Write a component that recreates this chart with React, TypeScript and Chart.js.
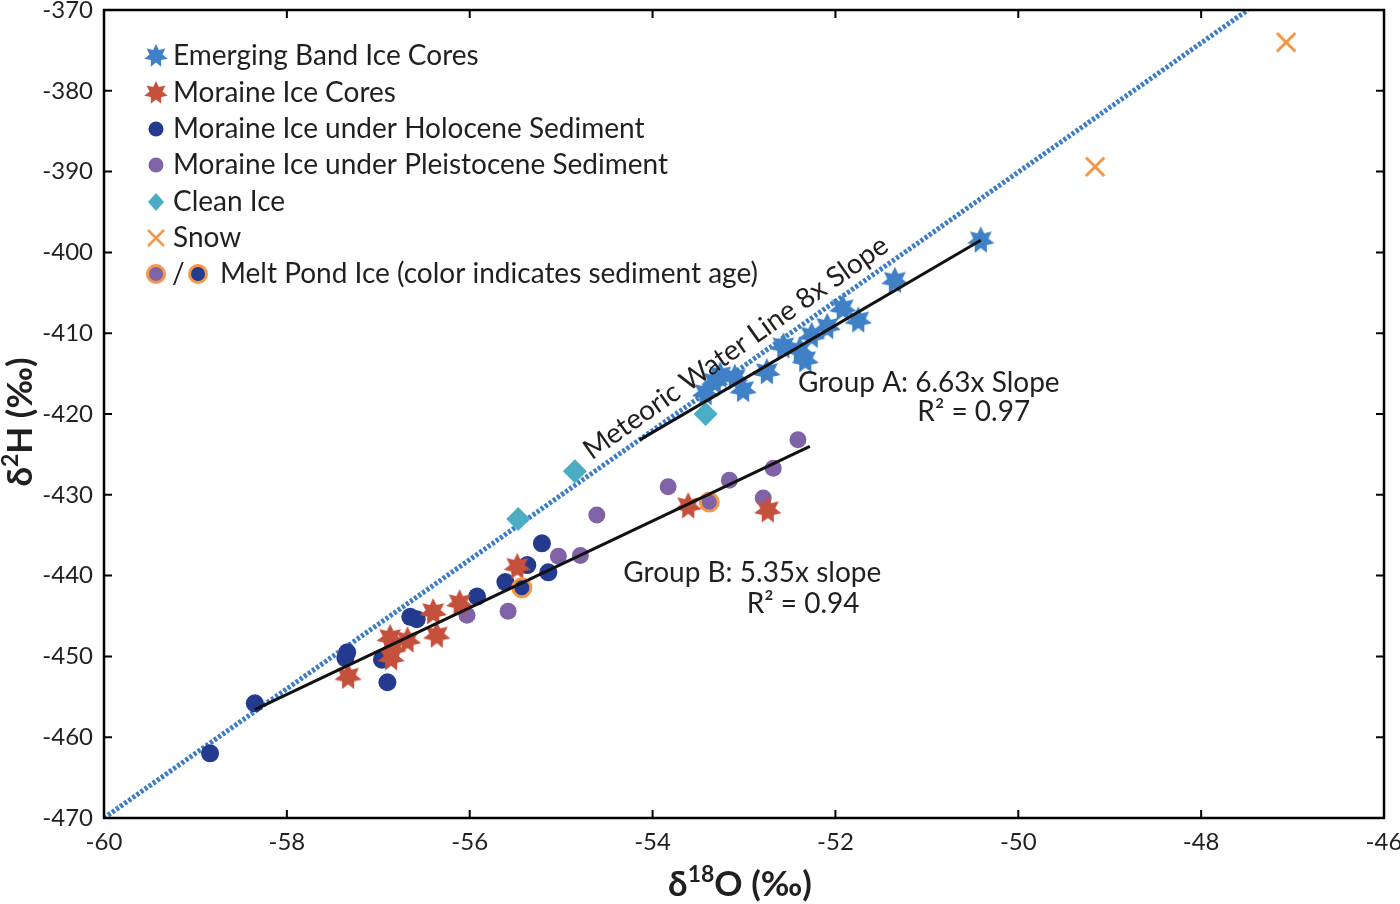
import { useEffect, useRef } from "react"
import { Chart, registerables } from "chart.js"

Chart.register(...registerables)

const FONT = "Lato, 'Open Sans', sans-serif"
const TEXT = "#231f20"

// δ18O (x) and δ2H (y), ‰
const emergingX = [-50.41, -51.35, -51.92, -51.75, -52.09, -52.26, -52.57, -52.39, -52.33, -52.75, -53.01, -53.1, -53.32, -53.42, -53.26]
const emergingY = [-398.5, -403.5, -406.9, -408.4, -409.2, -410.3, -411.6, -412.1, -413.3, -414.8, -417.0, -415.5, -416.0, -417.4, -415.2]

const moraineX = [-57.33, -56.87, -56.86, -56.84, -56.68, -56.4, -56.36, -56.11, -55.48, -53.61, -52.74]
const moraineY = [-452.5, -447.7, -450.2, -449.0, -448.0, -444.5, -447.4, -443.4, -438.9, -431.4, -431.9]

const holoceneX = [-58.84, -58.35, -57.36, -57.34, -56.96, -56.9, -56.65, -56.58, -55.92, -55.61, -55.37, -55.21, -55.14]
const holoceneY = [-462.0, -455.8, -450.2, -449.5, -450.4, -453.2, -445.1, -445.4, -442.6, -440.8, -438.7, -436.0, -439.6]

const pleistoceneX = [-56.03, -55.58, -55.03, -54.79, -54.61, -53.83, -53.16, -52.68, -52.41, -52.79]
const pleistoceneY = [-444.9, -444.4, -437.6, -437.5, -432.5, -429.0, -428.2, -426.7, -423.2, -430.4]

const cleanX = [-53.42, -54.85, -55.47]
const cleanY = [-420.0, -427.1, -433.0]

const snowX = [-47.07, -49.16]
const snowY = [-374.0, -389.4]

const meltPurpleX = [-53.38]
const meltPurpleY = [-430.9]
const meltBlueX = [-55.43]
const meltBlueY = [-441.5]

const mwlX = [-60, -47.49]
const mwlY = [-470, -370]
const groupAX = [-54.14, -50.41]
const groupAY = [-423.2, -398.5]
const groupBX = [-58.35, -52.28]
const groupBY = [-456.6, -424.0]

const xTicks = [-60, -58, -56, -54, -52, -50, -48, -46]
const yTicks = [-470, -460, -450, -440, -430, -420, -410, -400, -390, -380, -370]

const BLUE_STAR = "#3f80c6"
const RED_STAR = "#c5513c"
const HOLO = "#233a8f"
const PLEI = "#8063a6"
const CLEAN = "#4badc4"
const SNOW = "#f79646"
const MWL = "#3a7cc8"

const pts = (xs: number[], ys: number[]) => xs.map((x, i) => ({ x, y: ys[i] }))

function starPath(ctx: CanvasRenderingContext2D, cx: number, cy: number, r: number) {
  const n = 7
  ctx.beginPath()
  for (let i = 0; i < n * 2; i++) {
    const rad = i % 2 === 0 ? r : r * 0.55
    const a = -Math.PI / 2 + (i * Math.PI) / n
    const px = cx + Math.cos(a) * rad
    const py = cy + Math.sin(a) * rad
    if (i === 0) ctx.moveTo(px, py)
    else ctx.lineTo(px, py)
  }
  ctx.closePath()
}

function makeStar(color: string, r: number) {
  const c = document.createElement("canvas")
  const size = Math.ceil(r * 2 + 2)
  c.width = size
  c.height = size
  const ctx = c.getContext("2d")!
  ctx.fillStyle = color
  starPath(ctx, size / 2, size / 2, r)
  ctx.fill()
  return c
}

const frameAndText = {
  id: "frameAndText",
  afterDraw(chart: Chart) {
    const { ctx, chartArea: a, scales } = chart
    const xs = scales.x
    const ys = scales.y
    ctx.save()

    // frame with inward ticks on all four sides
    ctx.strokeStyle = "#000"
    ctx.lineWidth = 2.5
    ctx.strokeRect(a.left, a.top, a.right - a.left, a.bottom - a.top)
    ctx.lineWidth = 2
    ctx.beginPath()
    xTicks.forEach((v) => {
      const px = xs.getPixelForValue(v)
      ctx.moveTo(px, a.bottom)
      ctx.lineTo(px, a.bottom - 8)
      ctx.moveTo(px, a.top)
      ctx.lineTo(px, a.top + 8)
    })
    yTicks.forEach((v) => {
      const py = ys.getPixelForValue(v)
      ctx.moveTo(a.left, py)
      ctx.lineTo(a.left + 8, py)
      ctx.moveTo(a.right, py)
      ctx.lineTo(a.right - 8, py)
    })
    ctx.stroke()

    // legend
    ctx.fillStyle = TEXT
    ctx.font = `28px ${FONT}`
    ctx.textBaseline = "middle"
    ctx.textAlign = "left"
    const lx = 156
    const tx = 173
    const rows = [56, 93, 129, 165, 202, 238, 274]
    const labels = [
      "Emerging Band Ice Cores",
      "Moraine Ice Cores",
      "Moraine Ice under Holocene Sediment",
      "Moraine Ice under Pleistocene Sediment",
      "Clean Ice",
      "Snow",
    ]
    labels.forEach((t, i) => {
      ctx.fillStyle = TEXT
      ctx.fillText(t, tx, rows[i])
    })
    ctx.fillStyle = BLUE_STAR
    starPath(ctx, lx, rows[0], 12)
    ctx.fill()
    ctx.fillStyle = RED_STAR
    starPath(ctx, lx, rows[1], 12)
    ctx.fill()
    ctx.fillStyle = HOLO
    ctx.beginPath()
    ctx.arc(lx, rows[2], 7.5, 0, Math.PI * 2)
    ctx.fill()
    ctx.fillStyle = PLEI
    ctx.beginPath()
    ctx.arc(lx, rows[3], 7.5, 0, Math.PI * 2)
    ctx.fill()
    ctx.fillStyle = CLEAN
    ctx.beginPath()
    ctx.moveTo(lx, rows[4] - 9)
    ctx.lineTo(lx + 8, rows[4])
    ctx.lineTo(lx, rows[4] + 9)
    ctx.lineTo(lx - 8, rows[4])
    ctx.closePath()
    ctx.fill()
    ctx.strokeStyle = SNOW
    ctx.lineWidth = 2.5
    ctx.beginPath()
    ctx.moveTo(lx - 8, rows[5] - 8)
    ctx.lineTo(lx + 8, rows[5] + 8)
    ctx.moveTo(lx + 8, rows[5] - 8)
    ctx.lineTo(lx - 8, rows[5] + 8)
    ctx.stroke()
    const ring = (cx: number, fill: string) => {
      ctx.fillStyle = fill
      ctx.beginPath()
      ctx.arc(cx, rows[6], 8.5, 0, Math.PI * 2)
      ctx.fill()
      ctx.strokeStyle = SNOW
      ctx.lineWidth = 3
      ctx.stroke()
    }
    ring(lx, PLEI)
    ring(198, HOLO)
    ctx.fillStyle = TEXT
    ctx.fillText("/", 172, rows[6])
    ctx.fillText("Melt Pond Ice (color indicates sediment age)", 220, rows[6])

    // annotations
    ctx.textBaseline = "middle"
    ctx.textAlign = "left"
    ctx.fillText("Group A: 6.63x Slope", xs.getPixelForValue(-52.41), ys.getPixelForValue(-416.2))
    ctx.textAlign = "right"
    ctx.fillText("R² = 0.97", xs.getPixelForValue(-49.87), ys.getPixelForValue(-419.8))
    ctx.textAlign = "left"
    ctx.fillText("Group B: 5.35x slope", xs.getPixelForValue(-54.32), ys.getPixelForValue(-439.7))
    ctx.fillText("R² = 0.94", xs.getPixelForValue(-52.97), ys.getPixelForValue(-443.5))

    const mx = xs.getPixelForValue(-53.09)
    const my = ys.getPixelForValue(-411.8)
    const ang = Math.atan2(
      ys.getPixelForValue(mwlY[1]) - ys.getPixelForValue(mwlY[0]),
      xs.getPixelForValue(mwlX[1]) - xs.getPixelForValue(mwlX[0])
    )
    ctx.save()
    ctx.translate(mx, my)
    ctx.rotate(ang)
    ctx.textAlign = "center"
    ctx.fillText("Meteoric Water Line 8x Slope", 0, 0)
    ctx.restore()

    // axis titles with superscripts
    const drawTitle = (parts: [string, boolean][], cx: number, cy: number, rot: number) => {
      const big = `bold 35px ${FONT}`
      const small = `bold 23px ${FONT}`
      let w = 0
      parts.forEach(([t, sup]) => {
        ctx.font = sup ? small : big
        w += ctx.measureText(t).width
      })
      ctx.save()
      ctx.translate(cx, cy)
      ctx.rotate(rot)
      ctx.textAlign = "left"
      ctx.textBaseline = "alphabetic"
      let x = -w / 2
      parts.forEach(([t, sup]) => {
        ctx.font = sup ? small : big
        ctx.fillText(t, x, sup ? -2 : 12)
        x += ctx.measureText(t).width
      })
      ctx.restore()
    }
    ctx.fillStyle = TEXT
    drawTitle([["δ", false], ["18", true], ["O (‰)", false]], (a.left + a.right) / 2 - 4, 884, 0)
    drawTitle([["δ", false], ["2", true], ["H (‰)", false]], 20, (a.top + a.bottom) / 2 + 8, -Math.PI / 2)

    ctx.restore()
  },
}

export default function App() {
  const chartRef = useRef<HTMLCanvasElement>(null)
  const chartInstance = useRef<Chart | null>(null)

  useEffect(() => {
    if (!chartRef.current) return
    if (chartInstance.current) chartInstance.current.destroy()

    const blueStar = makeStar(BLUE_STAR, 14)
    const redStar = makeStar(RED_STAR, 14)

    const ctx = chartRef.current.getContext("2d")
    if (!ctx) return

    chartInstance.current = new Chart(ctx, {
      type: "scatter",
      data: {
        datasets: [
          {
            label: "Group A",
            data: pts(groupAX, groupAY),
            showLine: true,
            borderColor: "#111",
            borderWidth: 3,
            pointRadius: 0,
          },
          {
            label: "Group B",
            data: pts(groupBX, groupBY),
            showLine: true,
            borderColor: "#111",
            borderWidth: 3,
            pointRadius: 0,
          },
          {
            label: "Melt Pond (Pleistocene)",
            data: pts(meltPurpleX, meltPurpleY),
            pointStyle: "circle",
            pointRadius: 9,
            backgroundColor: PLEI,
            borderColor: SNOW,
            borderWidth: 3,
          },
          {
            label: "Melt Pond (Holocene)",
            data: pts(meltBlueX, meltBlueY),
            pointStyle: "circle",
            pointRadius: 9,
            backgroundColor: HOLO,
            borderColor: SNOW,
            borderWidth: 3,
          },
          {
            label: "Emerging Band Ice Cores",
            data: pts(emergingX, emergingY),
            pointStyle: blueStar,
          },
          {
            label: "Moraine Ice Cores",
            data: pts(moraineX, moraineY),
            pointStyle: redStar,
          },
          {
            label: "Clean Ice",
            data: pts(cleanX, cleanY),
            pointStyle: "rectRot",
            pointRadius: 12,
            backgroundColor: CLEAN,
            borderColor: CLEAN,
            borderWidth: 0,
          },
          {
            label: "Snow",
            data: pts(snowX, snowY),
            pointStyle: "crossRot",
            pointRadius: 13,
            borderColor: SNOW,
            borderWidth: 3,
          },
          {
            label: "Moraine Ice under Holocene Sediment",
            data: pts(holoceneX, holoceneY),
            pointStyle: "circle",
            pointRadius: 9,
            backgroundColor: HOLO,
            borderWidth: 0,
          },
          {
            label: "Moraine Ice under Pleistocene Sediment",
            data: pts(pleistoceneX, pleistoceneY),
            pointStyle: "circle",
            pointRadius: 8.5,
            backgroundColor: PLEI,
            borderWidth: 0,
          },
          {
            label: "Meteoric Water Line",
            data: pts(mwlX, mwlY),
            showLine: true,
            borderColor: MWL,
            borderWidth: 5,
            borderDash: [3, 2],
            pointRadius: 0,
          },
        ],
      },
      options: {
        responsive: true,
        maintainAspectRatio: false,
        animation: false,
        layout: { autoPadding: false, padding: { top: 10, right: 16, left: 0, bottom: 0 } },
        plugins: {
          legend: { display: false },
          tooltip: { enabled: false },
        },
        scales: {
          x: {
            type: "linear",
            min: -60,
            max: -46,
            afterBuildTicks: (s: any) => {
              s.ticks = xTicks.map((value) => ({ value }))
            },
            afterFit: (s: any) => {
              s.height = 86
              s.paddingLeft = 0
              s.paddingRight = 0
            },
            grid: { display: false, drawTicks: false },
            border: { display: false },
            ticks: { padding: 10, color: TEXT, font: { family: FONT, size: 24 } },
          },
          y: {
            type: "linear",
            min: -470,
            max: -370,
            afterBuildTicks: (s: any) => {
              s.ticks = yTicks.map((value) => ({ value }))
            },
            afterFit: (s: any) => {
              s.width = 104
              s.paddingTop = 0
              s.paddingBottom = 0
            },
            grid: { display: false, drawTicks: false },
            border: { display: false },
            ticks: { padding: 11, color: TEXT, font: { family: FONT, size: 24 } },
          },
        },
      },
      plugins: [frameAndText],
    })

    return () => {
      if (chartInstance.current) {
        chartInstance.current.destroy()
        chartInstance.current = null
      }
    }
  }, [])

  return (
    <div style={{ position: "absolute", left: 0, top: 0, width: 1400, height: 904, background: "#fff" }}>
      <canvas ref={chartRef} />
    </div>
  )
}
